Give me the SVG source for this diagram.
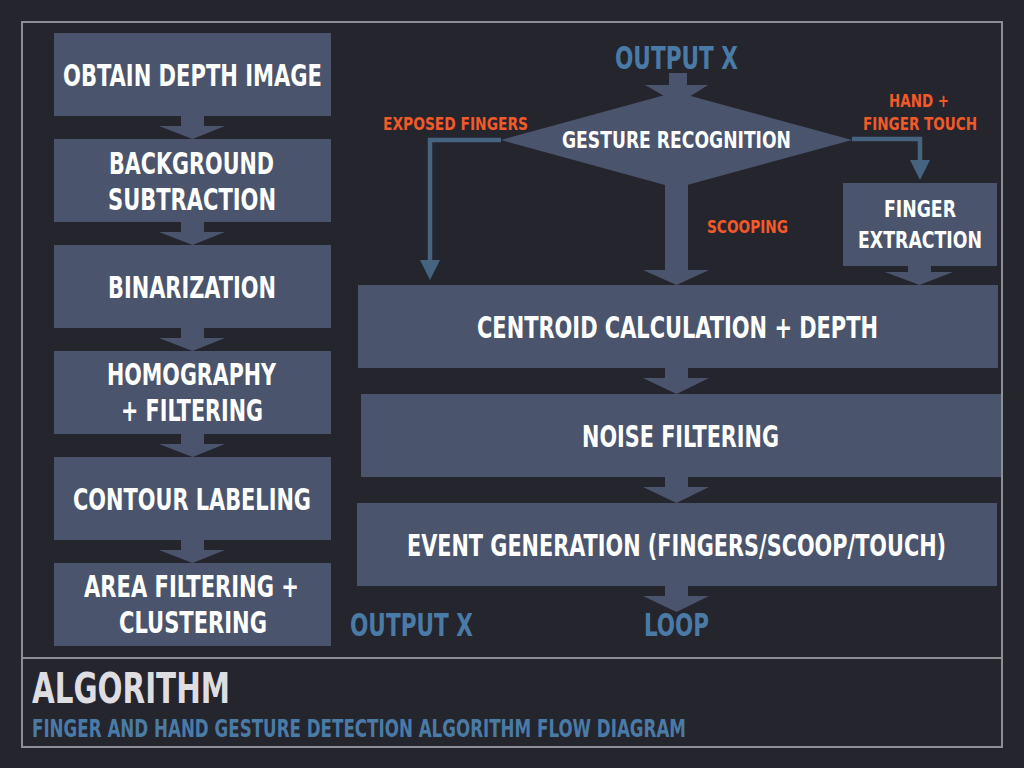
<svg xmlns="http://www.w3.org/2000/svg" width="1024" height="768" viewBox="0 0 1024 768">
<style>
.bg{fill:#25252e}
.box{fill:#4a556d}
.arr{fill:#4a556d}
.frame{fill:none;stroke:#8e8e93;stroke-width:2}
.con{fill:none;stroke:#46637f;stroke-width:4.5}
.conh{fill:#46637f}
text{font-family:"Liberation Sans Narrow","DejaVu Sans Condensed","Liberation Sans",sans-serif;font-weight:bold}
.w{fill:#ffffff;font-size:30px}
.ws{fill:#ffffff;font-size:23.5px}
.o{fill:#f25a29;font-size:18px}
.b{fill:#4a7ba7;font-size:31.5px}
.title{fill:#dedde2;font-size:42.5px}
.sub{fill:#4a7ba7;font-size:24.7px}
</style>
<rect class="bg" x="0" y="0" width="1024" height="768"/>
<g id="frame">
<rect class="frame" x="22" y="22" width="980" height="725"/>
<line class="frame" x1="22" y1="658" x2="1002" y2="658"/>
</g>
<g id="connectors">
<polygon class="arr" points="181,116 204,116 204,126 225,126 192.5,139 159,126 181,126"/>
<polygon class="arr" points="181,222 204,222 204,232 225,232 192.5,245 159,232 181,232"/>
<polygon class="arr" points="181,328 204,328 204,338 225,338 192.5,351 159,338 181,338"/>
<polygon class="arr" points="181,434 204,434 204,444 225,444 192.5,457 159,444 181,444"/>
<polygon class="arr" points="181,540 204,540 204,550 225,550 192.5,563 159,550 181,550"/>
<polygon class="arr" points="669,73 687,73 687,85 708,85 678,104 645,85 669,85"/>
<polygon class="arr" points="665,180 688,180 688,270 709,270 676.5,285 643,270 665,270"/>
<polygon class="arr" points="665,368 688,368 688,378 709,378 676.5,394 643,378 665,378"/>
<polygon class="arr" points="665,477 688,477 688,487 709,487 676.5,503 643,487 665,487"/>
<polygon class="arr" points="665,586 688,586 688,596 709,596 676.5,612 643,596 665,596"/>
<polygon class="arr" points="908,266 931,266 931,272 953,272 919.5,285 885,272 908,272"/>
<path class="con" d="M501 140 H430 V262"/>
<polygon class="conh" points="420,260 440,260 430,280"/>
<path class="con" d="M852 139 H920 V162"/>
<polygon class="conh" points="910,160 930,160 920,180"/>
</g>
<g id="n1"><rect class="box" x="54" y="33" width="277" height="83"/><text class="w" x="63" y="86" textLength="259" lengthAdjust="spacingAndGlyphs">OBTAIN DEPTH IMAGE</text></g>
<g id="n2"><rect class="box" x="54" y="139" width="277" height="83"/><text class="w" x="109" y="173.5" textLength="165" lengthAdjust="spacingAndGlyphs">BACKGROUND</text><text class="w" x="108" y="209.5" textLength="168" lengthAdjust="spacingAndGlyphs">SUBTRACTION</text></g>
<g id="n3"><rect class="box" x="54" y="245" width="277" height="83"/><text class="w" x="108" y="297.5" textLength="168" lengthAdjust="spacingAndGlyphs">BINARIZATION</text></g>
<g id="n4"><rect class="box" x="54" y="351" width="277" height="83"/><text class="w" x="107" y="385" textLength="169" lengthAdjust="spacingAndGlyphs">HOMOGRAPHY</text><text class="w" x="121" y="421" textLength="142" lengthAdjust="spacingAndGlyphs">+ FILTERING</text></g>
<g id="n5"><rect class="box" x="54" y="457" width="277" height="83"/><text class="w" x="73" y="510" textLength="238" lengthAdjust="spacingAndGlyphs">CONTOUR LABELING</text></g>
<g id="n6"><rect class="box" x="54" y="563" width="277" height="83"/><text class="w" x="84" y="597" textLength="215" lengthAdjust="spacingAndGlyphs">AREA FILTERING +</text><text class="w" x="119" y="633" textLength="148" lengthAdjust="spacingAndGlyphs">CLUSTERING</text></g>
<g id="outputTop"><text class="b" x="615" y="69" textLength="123" lengthAdjust="spacingAndGlyphs">OUTPUT X</text></g>
<g id="gesture"><polygon class="box" points="676,92 852,140 676,188 501,140"/><text class="ws" x="562" y="148" textLength="229" lengthAdjust="spacingAndGlyphs">GESTURE RECOGNITION</text></g>
<g id="labels">
<text class="o" x="383" y="130" textLength="145" lengthAdjust="spacingAndGlyphs">EXPOSED FINGERS</text>
<text class="o" x="889" y="107" textLength="60" lengthAdjust="spacingAndGlyphs">HAND +</text>
<text class="o" x="863" y="130" textLength="114" lengthAdjust="spacingAndGlyphs">FINGER TOUCH</text>
<text class="o" x="707" y="233" font-size="19" textLength="81" lengthAdjust="spacingAndGlyphs">SCOOPING</text>
</g>
<g id="fingerExtraction"><rect class="box" x="843" y="183" width="154" height="83"/><text class="ws" x="884" y="217" textLength="72" lengthAdjust="spacingAndGlyphs">FINGER</text><text class="ws" x="858" y="248" textLength="124" lengthAdjust="spacingAndGlyphs">EXTRACTION</text></g>
<g id="centroid"><rect class="box" x="358" y="285" width="640" height="83"/><text class="w" x="477" y="337.5" textLength="401" lengthAdjust="spacingAndGlyphs">CENTROID CALCULATION + DEPTH</text></g>
<g id="noise"><rect class="box" x="361" y="394" width="640" height="83"/><text class="w" x="582" y="446.5" textLength="197" lengthAdjust="spacingAndGlyphs">NOISE FILTERING</text></g>
<g id="event"><rect class="box" x="357" y="503" width="640" height="83"/><text class="w" transform="translate(676.5,555.5) scale(0.8,1)" x="0" y="0" text-anchor="middle" textLength="674" lengthAdjust="spacingAndGlyphs">EVENT GENERATION (FINGERS/SCOOP/TOUCH)</text></g>
<g id="outputBottom"><text class="b" x="350" y="636" textLength="123" lengthAdjust="spacingAndGlyphs">OUTPUT X</text></g>
<g id="loop"><text class="b" x="644" y="636" textLength="65" lengthAdjust="spacingAndGlyphs">LOOP</text></g>
<g id="caption">
<text class="title" x="32" y="703" textLength="198" lengthAdjust="spacingAndGlyphs">ALGORITHM</text>
<text class="sub" x="32" y="737" textLength="654" lengthAdjust="spacingAndGlyphs">FINGER AND HAND GESTURE DETECTION ALGORITHM FLOW DIAGRAM</text>
</g>
</svg>
